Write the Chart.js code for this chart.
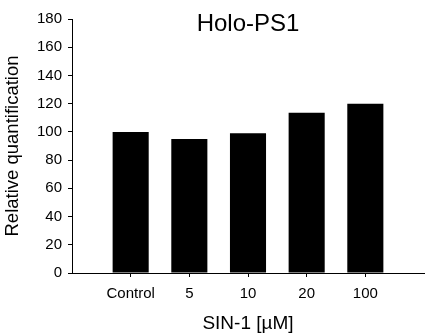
<!DOCTYPE html>
<html>
<head>
<meta charset="utf-8">
<script src="https://cdn.jsdelivr.net/npm/chart.js@4"></script>
<style>
  html, body { margin: 0; padding: 0; background: #fff; }
  #wrap { width: 425px; height: 335px; position: relative; }
</style>
</head>
<body>
<div id="wrap"><canvas id="chart"></canvas></div>
<script>
// data
const categories = ["Control", "5", "10", "20", "100"];
const values = [100, 95, 99, 113.5, 120];
const yTicks = [0, 20, 40, 60, 80, 100, 120, 140, 160, 180];
const chartTitle = "Holo-PS1";
const xTitle = "SIN-1 [µM]";
const yTitle = "Relative quantification";

const FONT = "'Liberation Sans', Arial, sans-serif";

// empty slot on each side so the bars sit away from the axes
const labels = ["", ...categories, ""];
const barData = [null, ...values, null];

// title drawn inside the plot area, top centre
const innerTitle = {
  id: "innerTitle",
  afterDraw(chart) {
    const { ctx, chartArea } = chart;
    ctx.save();
    ctx.font = "24px " + FONT;
    ctx.fillStyle = "#000";
    ctx.textAlign = "center";
    ctx.textBaseline = "middle";
    ctx.fillText(chartTitle, (chartArea.left + chartArea.right) / 2, chartArea.top + 5);
    ctx.restore();
  }
};

function initChart() {
  const ctx = document.getElementById("chart").getContext("2d");
  new Chart(ctx, {
    type: "bar",
    data: {
      labels: labels,
      datasets: [{
        data: barData,
        backgroundColor: "#000",
        categoryPercentage: 1,
        barPercentage: 0.615
      }]
    },
    plugins: [innerTitle],
    options: {
      responsive: true,
      maintainAspectRatio: false,
      animation: false,
      layout: { padding: { top: 19, right: 1, left: 0, bottom: 0 } },
      plugins: {
        legend: { display: false },
        tooltip: { enabled: false }
      },
      scales: {
        x: {
          offset: false,
          border: { color: "#000", width: 1 },
          grid: {
            offset: false,
            drawOnChartArea: false,
            tickLength: 4,
            tickColor: c => (c.index === 0 || c.index === labels.length - 1) ? "rgba(0,0,0,0)" : "#000"
          },
          ticks: { color: "#000", font: { family: FONT, size: 15 }, padding: 8, maxRotation: 0, autoSkip: false },
          title: { display: true, text: xTitle, color: "#000", font: { family: FONT, size: 19 }, padding: { top: 0, bottom: 0 } },
          afterFit: s => { s.height = 62; s.paddingLeft = 0; s.paddingRight = 0; }
        },
        y: {
          min: 0,
          max: 180,
          afterBuildTicks: s => { s.ticks = yTicks.map(v => ({ value: v })); },
          border: { color: "#000", width: 1 },
          grid: { drawOnChartArea: false, tickLength: 4, tickColor: "#000" },
          ticks: { color: "#000", font: { family: FONT, size: 15 }, padding: 6 },
          title: { display: true, text: yTitle, color: "#000", font: { family: FONT, size: 18.5 }, padding: { top: 2, bottom: 0 } },
          afterFit: s => { s.width = 72; }
        }
      }
    }
  });
}

document.addEventListener("DOMContentLoaded", initChart);
</script>
</body>
</html>
